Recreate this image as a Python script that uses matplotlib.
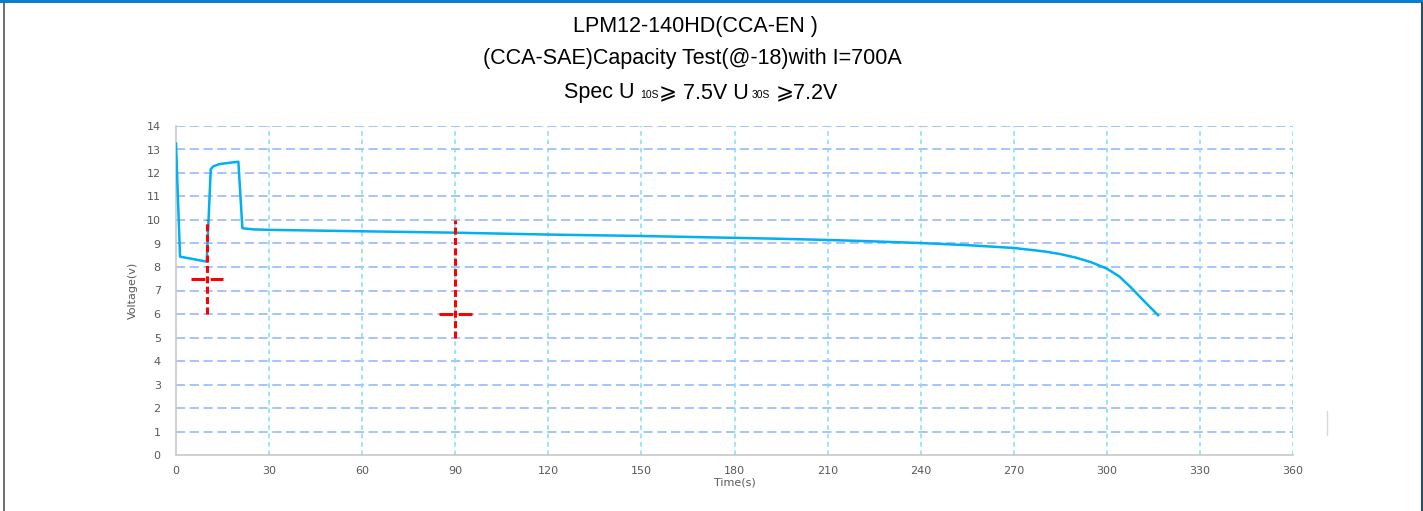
import matplotlib
matplotlib.use("Agg")
import matplotlib.pyplot as plt
from matplotlib.lines import Line2D
from matplotlib.patches import Rectangle

# curve: time (s) and voltage (V)
time_s = [0, 1.3, 5, 9.9, 11.2, 12, 14, 17, 20.1, 21.4, 25, 30, 45, 60, 75, 90,
          105, 120, 135, 150, 165, 180, 195, 210, 225, 240, 255, 270, 280, 285,
          290, 295, 300, 304, 308, 312, 316.5]
voltage = [13.25, 8.44, 8.35, 8.23, 12.16, 12.28, 12.38, 12.43, 12.48, 9.65, 9.6,
           9.58, 9.55, 9.52, 9.49, 9.46, 9.42, 9.38, 9.35, 9.32, 9.28, 9.24, 9.2,
           9.15, 9.09, 9.02, 8.93, 8.81, 8.66, 8.55, 8.4, 8.2, 7.93, 7.6, 7.1,
           6.55, 5.95]

# spec markers: (time, spec voltage, vertical from, vertical to)
spec_t = [10, 90]
spec_v = [7.5, 6.0]
spec_lo = [6, 5]
spec_hi = [10, 10]

x_ticks = list(range(0, 361, 30))
y_ticks = list(range(0, 15))

title1 = "LPM12-140HD(CCA-EN )"
title2 = "(CCA-SAE)Capacity Test(@-18)with I=700A"

fig = plt.figure(figsize=(14.23, 5.11), dpi=100)
W, H = 1423, 511
ax = fig.add_axes([176 / W, 1 - 455 / H, (1293 - 176) / W, (455 - 126) / H])

ax.set_xlim(0, 360)
ax.set_ylim(0, 14)
ax.set_xticks(x_ticks)
ax.set_yticks(y_ticks)

# grid, drawn by hand so horizontal/vertical get different looks
for y in y_ticks[1:]:
    ax.axhline(y, color="#8fb2fb", lw=1.1, ls=(0, (6, 3)), zorder=1)
for x in x_ticks[1:]:
    ax.axvline(x, color="#7fdff0", lw=1.1, ls=(0, (3, 2.5)), zorder=1)

ax.plot(time_s, voltage, color="#00b0f0", lw=1.8, zorder=3)

for t, v, lo, hi in zip(spec_t, spec_v, spec_lo, spec_hi):
    ax.plot([t, t], [lo, hi], color="#ff0000", lw=2.2, ls=(0, (2.3, 1.1)), zorder=4)
    ax.plot([t - 5.3, t + 5.3], [v, v], color="#ff0000", lw=2.2, ls=(0, (4.5, 1.8)), zorder=4)

for side in ["top", "right"]:
    ax.spines[side].set_visible(False)
for side in ["left", "bottom"]:
    ax.spines[side].set_color("#c8c8c8")
    ax.spines[side].set_linewidth(1.2)
ax.tick_params(length=0, labelsize=8, labelcolor="#595959")
ax.tick_params(axis="y", pad=11)
ax.tick_params(axis="x", pad=8)
ax.set_xlabel("Time(s)", fontsize=8, color="#595959", labelpad=1)
ax.set_ylabel("Voltage(v)", fontsize=8, color="#595959", labelpad=6)

tfont = dict(family=["Liberation Sans", "DejaVu Sans"], color="#000000")
fig.text(695 / W, 1 - 32 / H, title1, ha="center", va="baseline", fontsize=15.5, **tfont)
fig.text(692 / W, 1 - 64 / H, title2, ha="center", va="baseline", fontsize=15.5, **tfont)

# third title line with small subscripts, laid out piece by piece
# (text, font size, gap in px before the piece)
pieces = [("Spec U", 15.5, 0), ("10S", 7.5, 5), ("\u2a7e 7.5V U", 15.5, 1),
          ("30S", 7.5, 3), ("\u2a7e7.2V", 15.5, 5)]
fig.canvas.draw()
r = fig.canvas.get_renderer()
arts = []
for s, fs, gap in pieces:
    a = fig.text(0, 1 - 98 / H, s, ha="left", va="baseline", fontsize=fs, **tfont)
    arts.append(a)
widths = [a.get_window_extent(r).width for a in arts]
gaps = [p[2] for p in pieces]
x0 = 701 - (sum(widths) + sum(gaps)) / 2
for a, w, g in zip(arts, widths, gaps):
    x0 += g
    a.set_x(x0 / W)
    x0 += w

# frame around the picture
fig.add_artist(Rectangle((0, 1 - 3 / H), 1, 3 / H, transform=fig.transFigure,
                         color="#0a7fd0", lw=0))
fig.add_artist(Line2D([3.5 / W, 3.5 / W], [0, 1 - 3 / H], transform=fig.transFigure,
                      color="#555555", lw=1.2))
fig.add_artist(Line2D([1421.5 / W, 1421.5 / W], [0, 1 - 3 / H], transform=fig.transFigure,
                      color="#2f4f5f", lw=1.5))
fig.add_artist(Line2D([1327 / W, 1327 / W], [1 - 435 / H, 1 - 411 / H],
                      transform=fig.transFigure, color="#d9d9d9", lw=1))

fig.savefig("out.png", dpi=100)
